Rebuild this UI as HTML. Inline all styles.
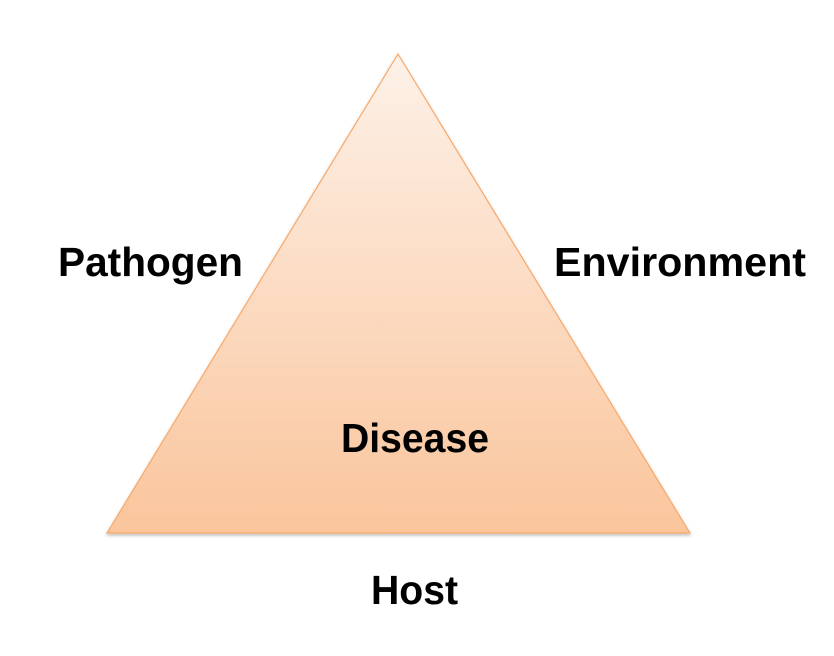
<!DOCTYPE html>
<html><head><style>html,body{margin:0;padding:0;background:#fff}</style></head>
<body>
<svg width="834" height="651" viewBox="0 0 834 651" xmlns="http://www.w3.org/2000/svg">
<defs>
<linearGradient id="g" x1="0" y1="0" x2="0" y2="1">
<stop offset="0" stop-color="#fdf1e8"/>
<stop offset="1" stop-color="#fac59c"/>
</linearGradient>
<filter id="s" x="-5%" y="-5%" width="110%" height="115%">
<feDropShadow dx="0" dy="2" stdDeviation="1.5" flood-color="#000" flood-opacity="0.25"/>
</filter>
</defs>
<polygon points="398,54 690,533 107,533" fill="url(#g)" stroke="#f8a869" stroke-width="1.2" filter="url(#s)"/>
<g font-family="Liberation Sans, sans-serif" font-weight="bold" font-size="41" fill="#000">
<text x="58" y="276" textLength="185" lengthAdjust="spacingAndGlyphs">Pathogen</text>
<text x="554" y="276" textLength="252" lengthAdjust="spacingAndGlyphs">Environment</text>
<text x="341" y="452" textLength="148" lengthAdjust="spacingAndGlyphs">Disease</text>
<text x="371" y="604" textLength="87" lengthAdjust="spacingAndGlyphs">Host</text>
</g>
</svg>
</body></html>
